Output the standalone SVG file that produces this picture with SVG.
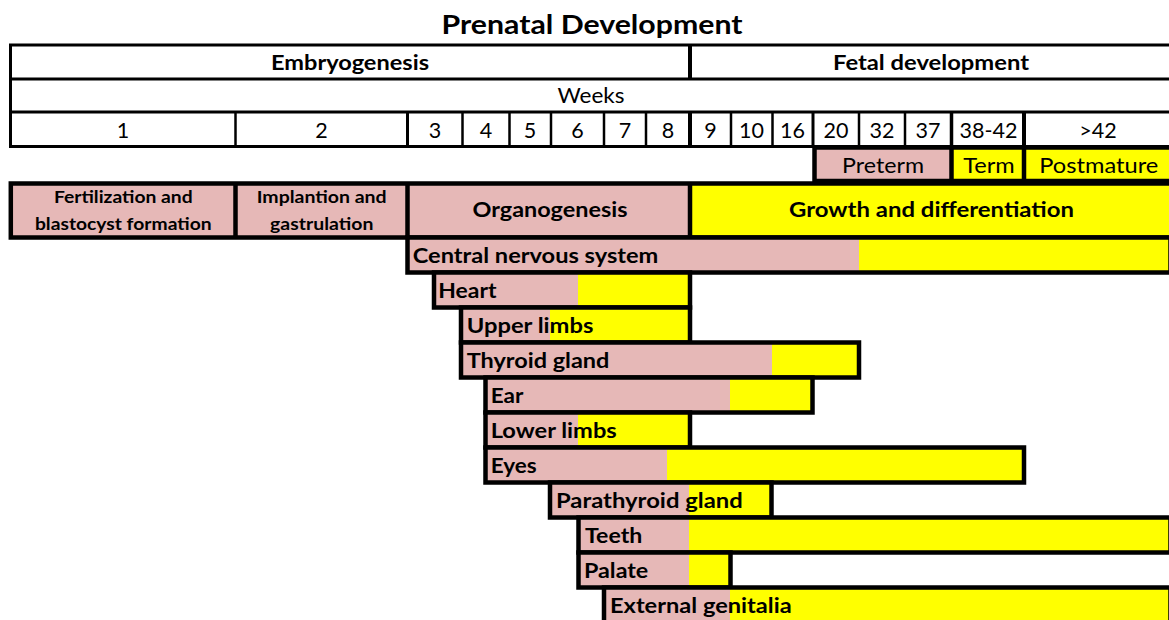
<svg xmlns="http://www.w3.org/2000/svg" width="1169" height="620" viewBox="0 0 1169 620">
  <style>
    text { font-family: Lato, "Liberation Sans", sans-serif; fill: #000; }
    .title { font-size: 26.5px; font-weight: 700; text-anchor: middle; }
    .hdr { font-size: 21px; font-weight: 700; text-anchor: middle; }
    .reg { font-size: 21.5px; font-weight: 400; text-anchor: middle; }
    .term { font-size: 21.5px; font-weight: 400; text-anchor: middle; }
    .phase-s { font-size: 17.5px; font-weight: 700; text-anchor: middle; }
    .phase-l { font-size: 20px; font-weight: 700; text-anchor: middle; }
    .bar { font-size: 21px; font-weight: 700; }
    .pink { fill: #E6B8B7; }
    .yel { fill: #FFFF00; }
    .grid { stroke: #000; stroke-width: 2.5; fill: none; }
    .gridb { stroke: #000; stroke-width: 3; fill: none; }
    .box { stroke: #000; stroke-width: 4.5; fill: none; }
  </style>

  <rect width="1169" height="620" fill="#fff"/>

  <!-- Title -->
  <g id="title">
    <text class="title" x="592" y="34" textLength="301" lengthAdjust="spacingAndGlyphs">Prenatal Development</text>
  </g>

  <!-- Week header table -->
  <g id="header">
    <rect class="gridb" x="10.5" y="45" width="1161.5" height="101.5"/>
    <line class="gridb" x1="10.5" y1="79" x2="1172" y2="79"/>
    <line class="gridb" x1="10.5" y1="112" x2="1172" y2="112"/>
    <line stroke="#000" stroke-width="4" x1="690" y1="45" x2="690" y2="79"/>
    <text class="hdr" x="350" y="70" textLength="158" lengthAdjust="spacingAndGlyphs">Embryogenesis</text>
    <text class="hdr" x="931" y="70" textLength="196" lengthAdjust="spacingAndGlyphs">Fetal development</text>
    <text class="reg" x="591" y="103" textLength="67" lengthAdjust="spacingAndGlyphs">Weeks</text>
    <!-- week column dividers -->
    <g class="grid">
      <line x1="235.5" y1="112" x2="235.5" y2="146.5"/>
      <line x1="407.5" y1="112" x2="407.5" y2="146.5" stroke-width="3"/>
      <line x1="462.5" y1="112" x2="462.5" y2="146.5"/>
      <line x1="509.5" y1="112" x2="509.5" y2="146.5"/>
      <line x1="551" y1="112" x2="551" y2="146.5"/>
      <line x1="604" y1="112" x2="604" y2="146.5"/>
      <line x1="646" y1="112" x2="646" y2="146.5"/>
      <line x1="690" y1="112" x2="690" y2="146.5" stroke-width="4"/>
      <line x1="731" y1="112" x2="731" y2="146.5"/>
      <line x1="772.5" y1="112" x2="772.5" y2="146.5"/>
      <line x1="813" y1="112" x2="813" y2="146.5" stroke-width="3"/>
      <line x1="859" y1="112" x2="859" y2="146.5"/>
      <line x1="905" y1="112" x2="905" y2="146.5"/>
      <line x1="951.5" y1="112" x2="951.5" y2="146.5" stroke-width="3.5"/>
      <line x1="1024" y1="112" x2="1024" y2="146.5" stroke-width="4"/>
    </g>
    <g class="reg">
      <text x="123" y="137.5">1</text>
      <text x="321.5" y="137.5">2</text>
      <text x="435" y="137.5">3</text>
      <text x="486" y="137.5">4</text>
      <text x="530" y="137.5">5</text>
      <text x="577.5" y="137.5">6</text>
      <text x="625" y="137.5">7</text>
      <text x="668" y="137.5">8</text>
      <text x="710.5" y="137.5">9</text>
      <text x="751.5" y="137.5">10</text>
      <text x="792.5" y="137.5">16</text>
      <text x="836" y="137.5">20</text>
      <text x="882" y="137.5">32</text>
      <text x="928" y="137.5">37</text>
      <text x="988.5" y="137.5" textLength="58" lengthAdjust="spacingAndGlyphs">38-42</text>
      <text x="1098" y="137.5">&gt;42</text>
    </g>
  </g>

  <!-- Birth timing categories -->
  <g id="birth-terms">
    <rect class="pink" x="814.5" y="147.5" width="137" height="33.5"/>
    <rect class="yel" x="951.5" y="147.5" width="220.5" height="33.5"/>
    <rect class="box" x="814.5" y="147.5" width="357.5" height="33.5"/>
    <line class="box" x1="951.5" y1="147.5" x2="951.5" y2="181"/>
    <line class="box" x1="1024" y1="147.5" x2="1024" y2="181"/>
    <text class="term" x="883" y="172.7" textLength="82" lengthAdjust="spacingAndGlyphs">Preterm</text>
    <text class="term" x="989" y="172.7" textLength="51.5" lengthAdjust="spacingAndGlyphs">Term</text>
    <text class="term" x="1098.8" y="172.7" textLength="119" lengthAdjust="spacingAndGlyphs">Postmature</text>
  </g>

  <!-- Developmental phases -->
  <g id="phases">
    <rect class="pink" x="10.8" y="183.5" width="679.2" height="54"/>
    <rect class="yel" x="690" y="183.5" width="482" height="54"/>
    <rect class="box" x="10.8" y="183.5" width="1161.2" height="54"/>
    <line class="box" x1="235.5" y1="183.5" x2="235.5" y2="237.5"/>
    <line class="box" x1="407.5" y1="183.5" x2="407.5" y2="237.5"/>
    <line class="box" x1="690" y1="183.5" x2="690" y2="237.5"/>
    <text class="phase-s" x="123.3" y="203.3" textLength="138.7" lengthAdjust="spacingAndGlyphs">Fertilization and</text>
    <text class="phase-s" x="123.3" y="230" textLength="176.7" lengthAdjust="spacingAndGlyphs">blastocyst formation</text>
    <text class="phase-s" x="321.7" y="203.3" textLength="130" lengthAdjust="spacingAndGlyphs">Implantion and</text>
    <text class="phase-s" x="321.7" y="230" textLength="103.3" lengthAdjust="spacingAndGlyphs">gastrulation</text>
    <text class="phase-l" x="550" y="216.5" textLength="155" lengthAdjust="spacingAndGlyphs">Organogenesis</text>
    <text class="phase-l" x="931.5" y="216.5" textLength="285" lengthAdjust="spacingAndGlyphs">Growth and differentiation</text>
  </g>

  <!-- Organ system timelines: pink = critical period, yellow = later development -->
  <g id="cns">
    <rect class="pink" x="407.5" y="237.5" width="451.5" height="35"/>
    <rect class="yel" x="859" y="237.5" width="311.5" height="35"/>
    <rect class="box" x="407.5" y="237.5" width="763" height="35"/>
    <text class="bar" x="412.7" y="263.3" textLength="245.7" lengthAdjust="spacingAndGlyphs">Central nervous system</text>
  </g>

  <g id="heart">
    <rect class="pink" x="434" y="272.5" width="144" height="35"/>
    <rect class="yel" x="578" y="272.5" width="112" height="35"/>
    <rect class="box" x="434" y="272.5" width="256" height="35"/>
    <text class="bar" x="438.3" y="298.3" textLength="58.3" lengthAdjust="spacingAndGlyphs">Heart</text>
  </g>

  <g id="upper-limbs">
    <rect class="pink" x="461" y="307.5" width="89" height="35"/>
    <rect class="yel" x="550" y="307.5" width="140" height="35"/>
    <rect class="box" x="461" y="307.5" width="229" height="35"/>
    <text class="bar" x="466.7" y="333.3" textLength="126.7" lengthAdjust="spacingAndGlyphs">Upper limbs</text>
  </g>

  <g id="thyroid-gland">
    <rect class="pink" x="461" y="342.5" width="311" height="35"/>
    <rect class="yel" x="772" y="342.5" width="87" height="35"/>
    <rect class="box" x="461" y="342.5" width="398" height="35"/>
    <text class="bar" x="466.7" y="368.3" textLength="142.7" lengthAdjust="spacingAndGlyphs">Thyroid gland</text>
  </g>

  <g id="ear">
    <rect class="pink" x="485.5" y="377.5" width="244.5" height="35"/>
    <rect class="yel" x="730" y="377.5" width="82.5" height="35"/>
    <rect class="box" x="485.5" y="377.5" width="327" height="35"/>
    <text class="bar" x="490.7" y="403.3" textLength="32.7" lengthAdjust="spacingAndGlyphs">Ear</text>
  </g>

  <g id="lower-limbs">
    <rect class="pink" x="485.5" y="412.5" width="92.5" height="35"/>
    <rect class="yel" x="578" y="412.5" width="112" height="35"/>
    <rect class="box" x="485.5" y="412.5" width="204.5" height="35"/>
    <text class="bar" x="490.7" y="438.3" textLength="126" lengthAdjust="spacingAndGlyphs">Lower limbs</text>
  </g>

  <g id="eyes">
    <rect class="pink" x="485.5" y="447.5" width="181.5" height="35"/>
    <rect class="yel" x="667" y="447.5" width="357" height="35"/>
    <rect class="box" x="485.5" y="447.5" width="538.5" height="35"/>
    <text class="bar" x="490.7" y="473.3" textLength="46" lengthAdjust="spacingAndGlyphs">Eyes</text>
  </g>

  <g id="parathyroid-gland">
    <rect class="pink" x="550" y="482.5" width="139" height="35"/>
    <rect class="yel" x="689" y="482.5" width="82.5" height="35"/>
    <rect class="box" x="550" y="482.5" width="221.5" height="35"/>
    <text class="bar" x="556" y="508.3" textLength="186.7" lengthAdjust="spacingAndGlyphs">Parathyroid gland</text>
  </g>

  <g id="teeth">
    <rect class="pink" x="578.5" y="517.5" width="110.5" height="35"/>
    <rect class="yel" x="689" y="517.5" width="481.5" height="35"/>
    <rect class="box" x="578.5" y="517.5" width="592" height="35"/>
    <text class="bar" x="585" y="543.3" textLength="57.3" lengthAdjust="spacingAndGlyphs">Teeth</text>
  </g>

  <g id="palate">
    <rect class="pink" x="578.5" y="552.5" width="110.5" height="35"/>
    <rect class="yel" x="689" y="552.5" width="41.5" height="35"/>
    <rect class="box" x="578.5" y="552.5" width="152" height="35"/>
    <text class="bar" x="584" y="578.3" textLength="64.3" lengthAdjust="spacingAndGlyphs">Palate</text>
  </g>

  <g id="external-genitalia">
    <rect class="pink" x="604" y="587.5" width="126" height="35"/>
    <rect class="yel" x="730" y="587.5" width="440.5" height="35"/>
    <rect class="box" x="604" y="587.5" width="566.5" height="35"/>
    <text class="bar" x="610" y="613.3" textLength="181.7" lengthAdjust="spacingAndGlyphs">External genitalia</text>
  </g>
</svg>
